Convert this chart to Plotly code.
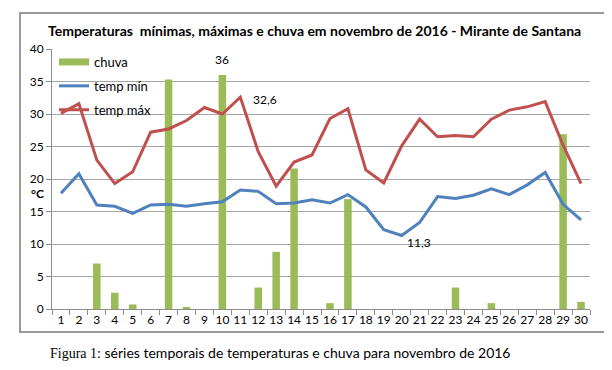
import plotly.graph_objects as go

days = [str(d) for d in range(1, 31)]
chuva = [0, 0, 7.0, 2.5, 0.7, 0, 35.3, 0.3, 0, 36.0, 0, 3.3, 8.8, 21.6, 0, 0.9, 16.9, 0, 0, 0,
         0, 0, 3.3, 0, 0.9, 0, 0, 0, 26.9, 1.1]
temp_min = [17.8, 20.8, 16.0, 15.8, 14.7, 16.0, 16.1, 15.8, 16.2, 16.5, 18.3, 18.1, 16.2, 16.3, 16.8,
            16.3, 17.6, 15.7, 12.2, 11.3, 13.3, 17.3, 17.0, 17.5, 18.5, 17.6, 19.1, 21.0, 16.1, 13.7]
temp_max = [30.1, 31.6, 22.9, 19.3, 21.1, 27.2, 27.7, 29.0, 31.0, 30.0, 32.6, 24.2, 18.9, 22.6, 23.7,
            29.3, 30.8, 21.4, 19.4, 25.1, 29.2, 26.5, 26.7, 26.5, 29.2, 30.6, 31.1, 31.9, 25.2, 19.3]
y_ticks = [0, 5, 10, 15, 20, 25, 30, 35, 40]

GREEN = "#9BBB59"
BLUE = "#4F81BD"
RED = "#C0504D"
FONT = "Lato, 'Open Sans', sans-serif"

fig = go.Figure()
fig.add_trace(go.Bar(x=days, y=chuva, name="chuva", marker=dict(color=GREEN, line=dict(width=0)),
                     width=0.42, showlegend=False, legendgroup="a"))
# legend proxy for the rain bars (wide flat swatch, as in the original legend)
fig.add_trace(go.Scatter(x=[None], y=[None], name="chuva", mode="lines",
                         line=dict(color=GREEN, width=7), legendgroup="a", hoverinfo="skip"))
fig.add_trace(go.Scatter(x=days, y=temp_min, name="temp mín", mode="lines",
                         line=dict(color=BLUE, width=3), legendgroup="b"))
fig.add_trace(go.Scatter(x=days, y=temp_max, name="temp máx", mode="lines",
                         line=dict(color=RED, width=3), legendgroup="c"))

# page is offset by the default 8px body margin
OFF = 8
W, H = 612 - OFF, 370 - OFF
L, R, T, B = 52 - OFF, 22, 49 - OFF, 61
pw, ph = W - L - R, H - T - B

def px(x):  # page pixel -> paper fraction
    return (x - OFF - L) / pw

def py(y):
    return (H - B - (y - OFF)) / ph

fig.update_layout(
    width=W, height=H,
    margin=dict(l=L, r=R, t=T, b=B, autoexpand=False),
    paper_bgcolor="white", plot_bgcolor="white",
    font=dict(family=FONT, size=12, color="black"),
    showlegend=True,
    legend=dict(x=px(54), y=py(47), xanchor="left", yanchor="top", bgcolor="rgba(0,0,0,0)",
                tracegroupgap=4, font=dict(size=13, family=FONT), traceorder="grouped"),
    bargap=0.5,
    xaxis=dict(type="category", categoryorder="array", categoryarray=days,
               showgrid=False, showline=True, linecolor="#8C8C8C", linewidth=1,
               ticks="outside", tickson="boundaries", ticklen=5, tickcolor="#8C8C8C",
               tickangle=0, automargin=False,
               tickfont=dict(size=12, family=FONT), fixedrange=True),
    yaxis=dict(range=[0, 40], tickvals=y_ticks, showgrid=True, gridcolor="#A6A6A6", gridwidth=1,
               showline=True, linecolor="#8C8C8C", linewidth=1, ticks="outside", ticklen=5,
               automargin=False,
               tickcolor="#8C8C8C", tickfont=dict(size=12, family=FONT), zeroline=False),
)

i10, i11, i20 = days.index("10"), days.index("11"), days.index("20")
ann = [
    dict(text="<b>Temperaturas  mínimas, máximas e chuva em novembro de 2016 - Mirante de Santana</b>",
         xref="paper", yref="paper", x=px(314), y=py(30), showarrow=False,
         font=dict(size=14, family=FONT, color="black"), xanchor="center", yanchor="middle"),
    dict(text="<b>°C</b>", xref="paper", yref="paper", x=px(37), y=py(193), showarrow=False,
         font=dict(size=12, family=FONT), xanchor="center", yanchor="middle"),
    dict(text="36", x=i10, y=38.4, showarrow=False, font=dict(size=12, family=FONT)),
    dict(text="32,6", x=i11, y=32.3, xshift=25, showarrow=False, font=dict(size=12, family=FONT)),
    dict(text="11,3", x=i20, y=10.2, xshift=17, showarrow=False, font=dict(size=12, family=FONT)),
    dict(text="<span style='font-family:Liberation Serif'>Figura 1:</span> séries temporais de temperaturas e chuva para novembro de 2016",
         xref="paper", yref="paper", x=px(48), y=py(352), xanchor="left", yanchor="middle",
         showarrow=False, font=dict(size=14, family=FONT)),
]
fig.update_layout(annotations=ann)

# outer chart frame
fig.add_shape(type="rect", xref="paper", yref="paper",
              x0=px(20), x1=px(609), y0=py(332), y1=py(13),
              line=dict(color="#999999", width=2), fillcolor="rgba(0,0,0,0)", layer="above")

fig.write_html("out.html")
